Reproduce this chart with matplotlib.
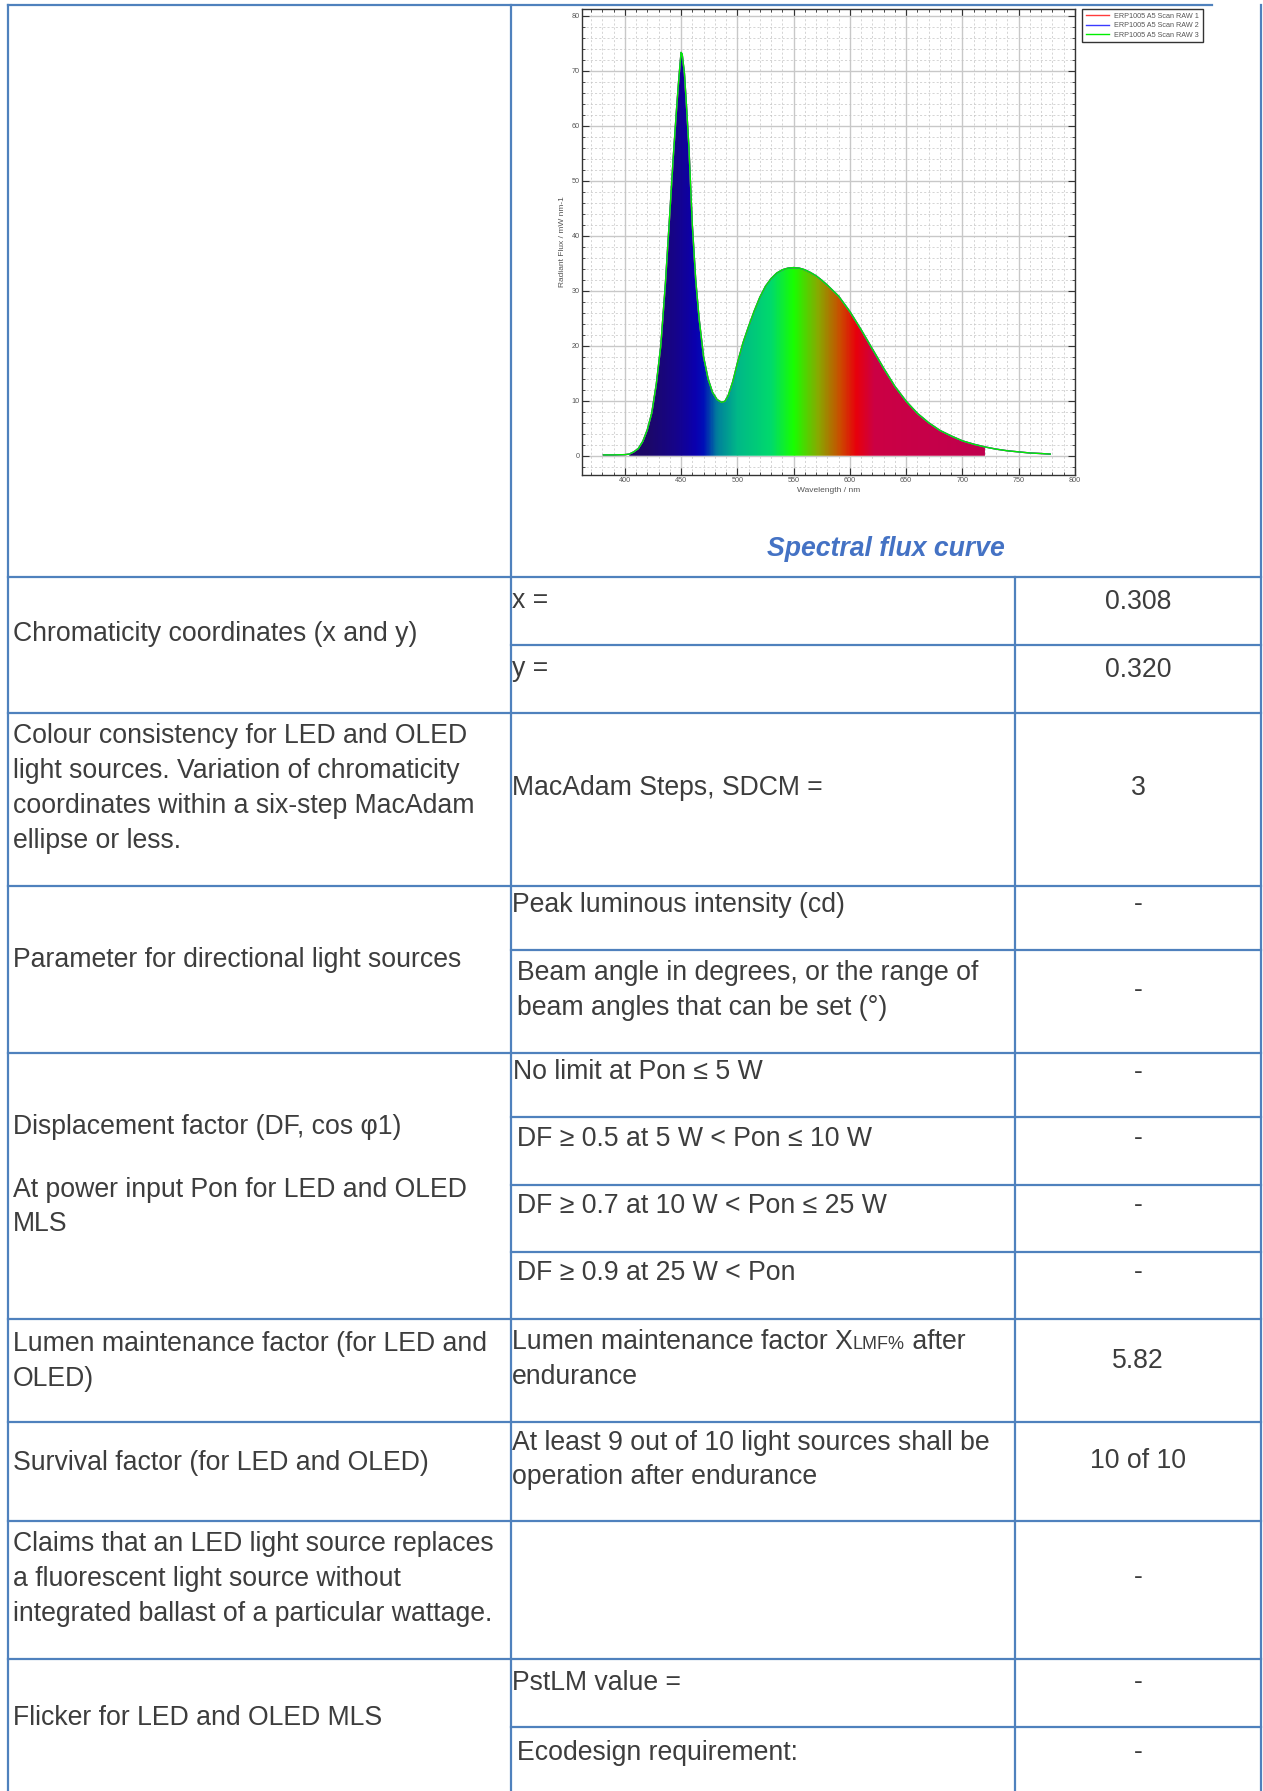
import numpy as np
import matplotlib.pyplot as plt
from matplotlib.colors import LinearSegmentedColormap
from matplotlib.patches import Polygon

plt.rcParams['font.family'] = ['Liberation Sans', 'DejaVu Sans']

# ---- spectral flux data ----
wavelength = [381, 390, 400, 404, 408, 412, 416, 420, 424, 428, 432, 436, 440,
              443, 446, 448, 450, 451, 453, 455, 457, 460, 463, 466, 470, 474,
              478, 482, 486, 489, 492, 496, 500, 505, 510, 515, 520, 525, 530,
              535, 540, 545, 550, 555, 560, 565, 570, 575, 580, 590, 600, 610,
              620, 630, 640, 650, 660, 670, 680, 690, 700, 710, 720, 730, 740,
              750, 760, 770, 778]
flux_raw1 = [0.15, 0.15, 0.2, 0.3, 0.7, 1.3, 2.6, 4.7, 7.8, 13.0, 20.0, 31.0, 44.0,
             54.0, 63.0, 68.5, 73.3, 73.0, 69.5, 63.0, 56.0, 42.0, 32.0, 25.0, 18.0, 14.0,
             11.5, 10.2, 9.7, 9.9, 11.0, 13.5, 16.8, 20.5, 23.5, 26.3, 28.8, 30.8, 32.2,
             33.2, 33.8, 34.1, 34.2, 34.1, 33.8, 33.3, 32.7, 31.9, 31.0, 29.0, 26.2, 22.9,
             19.4, 15.9, 12.6, 9.9, 7.7, 6.0, 4.6, 3.6, 2.7, 2.1, 1.6, 1.2, 0.9,
             0.7, 0.5, 0.4, 0.3]
# the three scans lie on top of each other
flux_raw2 = flux_raw1
flux_raw3 = flux_raw1
series_labels = ["ERP1005 A5 Scan RAW 1", "ERP1005 A5 Scan RAW 2", "ERP1005 A5 Scan RAW 3"]
series_colors = ["#ff3b3b", "#3a3aff", "#00ee00"]

# ---- table text ----
row_labels = [
    ["Chromaticity coordinates (x and y)"],
    ["Colour consistency for LED and OLED", "light sources. Variation of chromaticity",
     "coordinates within a six-step MacAdam", "ellipse or less."],
    ["Parameter for directional light sources"],
    ["Displacement factor (DF, cos φ1)", "At power input Pon for LED and OLED", "MLS"],
    ["Lumen maintenance factor (for LED and", "OLED)"],
    ["Survival factor (for LED and OLED)"],
    ["Claims that an LED light source replaces", "a fluorescent light source without",
     "integrated ballast of a particular wattage."],
    ["Flicker for LED and OLED MLS"],
]
param_texts = [
    ["x ="], ["y ="], ["MacAdam Steps, SDCM ="], ["Peak luminous intensity (cd)"],
    ["Beam angle in degrees, or the range of", "beam angles that can be set (°)"],
    ["No limit at Pon ≤ 5 W"], ["DF ≥ 0.5 at 5 W < Pon ≤ 10 W"],
    ["DF ≥ 0.7 at 10 W < Pon ≤ 25 W"], ["DF ≥ 0.9 at 25 W < Pon"],
    [("Lumen maintenance factor X", "LMF%", " after"), "endurance"],
    ["At least 9 out of 10 light sources shall be", "operation after endurance"],
    ["PstLM value ="], ["Ecodesign requirement:"],
]
value_texts = ["0.308", "0.320", "3", "-", "-", "-", "-", "-", "-", "5.82", "10 of 10", "-", "-", "-"]
caption = "Spectral flux curve"

# ---- layout (pixels) ----
W, H = 1263, 1791
col_x = [8, 511, 1015, 1261]
row_label_base = [[641], [743, 778, 813, 848], [967], [1134, 1197, 1231],
                  [1351, 1386], [1470], [1551, 1586, 1621], [1725]]
param_x = [512, 512, 512, 512, 517, 513, 517, 517, 517, 512, 512, 512, 517]
param_base = [[608], [676], [795], [912], [980, 1015], [1079], [1146], [1213],
              [1280], [1349, 1384], [1450, 1484], [1690], [1760]]
value_base = [609, 677, 795, 911, 997, 1079, 1145, 1212, 1279, 1368, 1468, 1584, 1689, 1759]
full_rows = [577, 713, 886, 1053, 1319, 1422, 1521, 1659]
sub_rows = [645, 950, 1117, 1185, 1252, 1727]

line_col = "#4f81bd"
txt_col = "#3d3d3d"
fs = 19.2

fig = plt.figure(figsize=(W / 100, H / 100), dpi=100)
tab = fig.add_axes([0, 0, 1, 1])
tab.set_xlim(0, W)
tab.set_ylim(H, 0)
tab.axis("off")

# grid lines of the table
tab.plot([col_x[0], 1212], [5, 5], color=line_col, lw=1.6)
for y in full_rows:
    tab.plot([col_x[0], col_x[3]], [y, y], color=line_col, lw=1.6)
for y in sub_rows:
    tab.plot([col_x[1], col_x[3]], [y, y], color=line_col, lw=1.6)
for i, x in enumerate(col_x):
    tab.plot([x, x], [577 if i == 2 else 5, H], color=line_col, lw=1.6)

for lines, bases in zip(row_labels, row_label_base):
    for s, b in zip(lines, bases):
        tab.text(13, b, s, fontsize=fs, color=txt_col, va="baseline", ha="left")

renderer = fig.canvas.get_renderer()
for lines, x, bases in zip(param_texts, param_x, param_base):
    for s, b in zip(lines, bases):
        if isinstance(s, tuple):
            t = tab.text(x, b, s[0], fontsize=fs, color=txt_col, va="baseline")
            x1 = t.get_window_extent(renderer).x1
            t2 = tab.text(x1, b, s[1], fontsize=13, color=txt_col, va="baseline")
            x2 = t2.get_window_extent(renderer).x1
            tab.text(x2, b, s[2], fontsize=fs, color=txt_col, va="baseline")
        else:
            tab.text(x, b, s, fontsize=fs, color=txt_col, va="baseline")

val_cx = (col_x[2] + col_x[3]) / 2
for s, b in zip(value_texts, value_base):
    tab.text(val_cx, b, s, fontsize=fs, color=txt_col, va="baseline", ha="center")

tab.text(886, 556, caption, fontsize=fs, color="#4472c4", fontweight="bold",
         fontstyle="italic", ha="center", va="baseline")

# ---- spectral chart ----
ax = fig.add_axes([582 / W, 1 - 475 / H, (1075 - 582) / W, (475 - 9) / H])
wl = np.array(wavelength)
fl = np.array(flux_raw1)

spec_nodes = [(380, "#1c0660"), (420, "#1c0868"), (445, "#16048a"), (463, "#0a00b0"),
              (470, "#0010b8"), (482, "#00809c"), (500, "#00b888"), (530, "#00da6c"),
              (550, "#18ff00"), (572, "#88aa00"), (592, "#cc4a00"), (606, "#e8000c"),
              (622, "#cc0044"), (720, "#c0004e")]
lo, hi = spec_nodes[0][0], spec_nodes[-1][0]
spec_cmap = LinearSegmentedColormap.from_list(
    "spec", [((w - lo) / (hi - lo), c) for w, c in spec_nodes])

mask = (wl >= 404) & (wl <= 720)
verts = list(zip(wl[mask], fl[mask])) + [(720, 0), (404, 0)]
clip = Polygon(verts, closed=True, facecolor="none", edgecolor="none", transform=ax.transData)
ax.add_patch(clip)
im = ax.imshow(np.linspace(lo, hi, 600)[None, :], extent=[lo, hi, 0, 80], cmap=spec_cmap,
               vmin=lo, vmax=hi, aspect="auto", origin="lower", zorder=2)
im.set_clip_path(clip)

for f, lab, c in zip([flux_raw1, flux_raw2, flux_raw3], series_labels, series_colors):
    ax.plot(wavelength, f, color=c, lw=1.0, label=lab, zorder=3)

ax.set_xlim(362, 800)
ax.set_ylim(-3.5, 81.2)
ax.set_xticks(np.arange(400, 801, 50))
ax.set_xticks(np.arange(370, 801, 10), minor=True)
ax.set_yticks(np.arange(0, 81, 10))
ax.set_yticks(np.arange(-2, 81, 2), minor=True)
ax.set_axisbelow(True)
ax.grid(which="major", color="#c8c8c8", lw=1.0, ls="-")
ax.grid(which="minor", color="#c4c4c4", lw=0.5, ls=(0, (3, 3)))
ax.tick_params(which="both", direction="in", top=True, right=True, color="#333333",
               labelsize=5.2, labelcolor="#555555", pad=1.5)
ax.tick_params(which="major", length=5, width=0.8)
ax.tick_params(which="minor", length=2.5, width=0.6)
for sp in ax.spines.values():
    sp.set_color("#333333")
    sp.set_linewidth(1.0)
ax.set_xlabel("Wavelength / nm", fontsize=6, color="#555555", labelpad=2)
ax.set_ylabel("Radiant Flux / mW nm-1", fontsize=6, color="#555555", labelpad=4)

leg = ax.legend(loc="upper left", bbox_to_anchor=(1082 / W, 1 - 9 / H),
                bbox_transform=fig.transFigure, fontsize=5.2, frameon=True,
                fancybox=False, edgecolor="black", borderpad=0.5, handlelength=3.2,
                labelspacing=0.35, borderaxespad=0)
leg.get_frame().set_linewidth(1.0)
for t in leg.get_texts():
    t.set_color("#555555")

fig.savefig("out.png", dpi=100)
